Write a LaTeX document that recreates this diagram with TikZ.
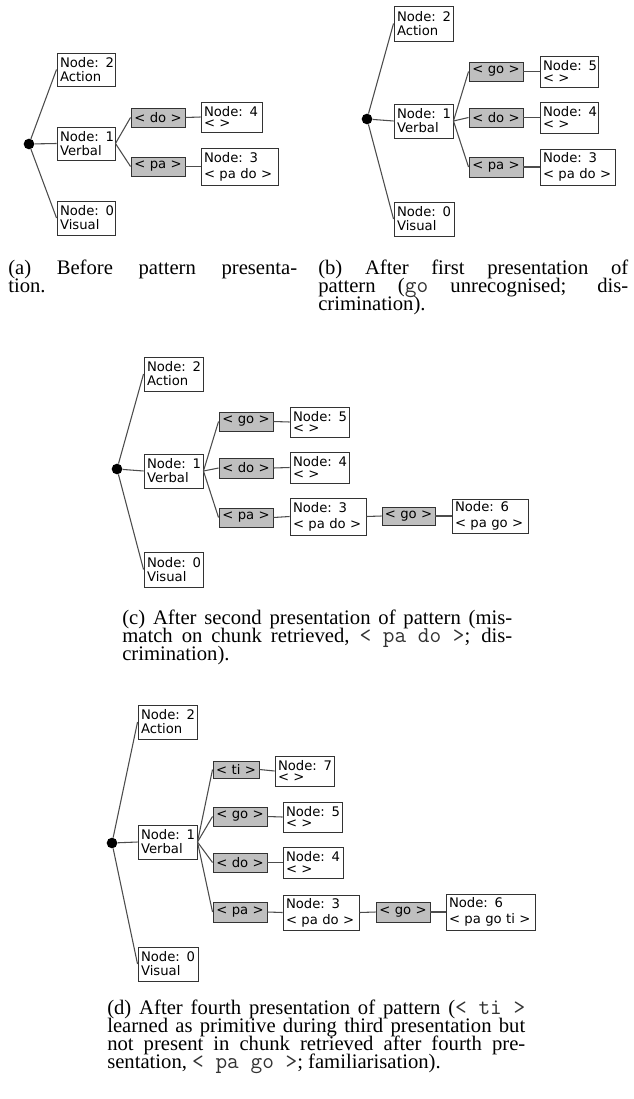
\documentclass[tikz,border=0pt]{standalone}
\usepackage{fontspec}
\newfontfamily\ndfont{DejaVu Sans}
\newfontfamily\capfont{Liberation Serif}
\newcommand\cmono[1]{{\ttfamily\fontsize{17}{18}\selectfont\color{black!80}#1}}
\tikzset{
  wnode/.style={draw=black!80, fill=white, line width=0.7pt, inner xsep=2.25pt, inner ysep=0pt, align=left, font=\ndfont\fontsize{9.9}{10.5}\selectfont},
  gnode/.style={draw=black!80, fill=black!25, line width=0.7pt, inner xsep=0pt, inner ysep=0pt, align=center, font=\ndfont\fontsize{9.9}{10.5}\selectfont},
  dotnode/.style={circle, fill=black, inner sep=0pt, minimum size=8pt},
  edge/.style={draw=black!70, line width=0.8pt},
  capnode/.style={inner sep=0pt, font=\capfont\fontsize{15.5}{18}\selectfont}
}
\newcommand\wbox[7]{%
  \pgfmathsetmacro\bxw{(#4-#2)*0.75-4.5}%
  \pgfmathsetmacro\bxh{(#5-#3)*0.75}%
  \node[wnode, text width={\bxw pt}, minimum height={\bxh pt}] (#1) at ({(#2+#4)/2},{(#3+#5)/2}) {\mbox{#6}\\\mbox{#7}};}
\newcommand\wboxt[7]{%
  \pgfmathsetmacro\bxw{(#4-#2)*0.75-4.5}%
  \pgfmathsetmacro\bxh{(#5-#3)*0.75}%
  \node[wnode, text width={\bxw pt}, minimum height={\bxh pt}] (#1) at ({(#2+#4)/2},{(#3+#5)/2}) {\mbox{#6}\\[-1.8pt]\mbox{#7}};}
\newcommand\wboxl[7]{%
  \pgfmathsetmacro\bxw{(#4-#2)*0.75-4.5}%
  \pgfmathsetmacro\bxh{(#5-#3)*0.75}%
  \node[wnode, text width={\bxw pt}, minimum height={\bxh pt}] (#1) at ({(#2+#4)/2},{(#3+#5)/2}) {\mbox{#6}\\[1.5pt]\mbox{#7}};}
\newcommand\gbox[6]{%
  \pgfmathsetmacro\bxw{(#4-#2)*0.75}%
  \pgfmathsetmacro\bxh{(#5-#3)*0.75}%
  \node[gnode, text width={\bxw pt}, minimum height={\bxh pt}] (#1) at ({(#2+#4)/2},{(#3+#5)/2}) {#6};}
\newcommand\capS[5]{\node[capnode, anchor=base west] (#1) at (#2,#3) {\makebox[#4pt][s]{#5}};}
\newcommand\capN[4]{\node[capnode, anchor=base west] (#1) at (#2,#3) {#4};}
\begin{document}
\begin{tikzpicture}[x=0.75pt,y=-0.75pt]
\fill[white] (0,0) rectangle (634,1099);
\useasboundingbox (0,0) rectangle (634,1099);

% ---------- (a)
\node[dotnode] (adot) at (29,144) {};
\wbox{a2}{57}{53}{115}{86}{Node: 2}{Action}
\wbox{a1}{57}{127}{115}{160}{Node: 1}{Verbal}
\wbox{a0}{57}{201}{115}{235}{Node: 0}{Visual}
\gbox{ado}{131}{108}{185}{127}{< do >}
\gbox{apa}{131}{157}{185}{176}{< pa >}
\wboxt{a4}{201}{102}{262}{132}{Node: 4}{< >}
\wboxl{a3}{201}{148}{278}{185}{Node: 3}{< pa do >}
\draw[edge] (adot) -- (a2.west);
\draw[edge] (adot) -- (a1.west);
\draw[edge] (adot) -- (a0.west);
\draw[edge] (a1.east) -- (ado.west);
\draw[edge] (a1.east) -- (apa.west);
\draw[edge] (ado.east) -- (a4.west);
\draw[edge] (apa.east) -- (a3.west);

% ---------- (b)
\node[dotnode] (bdot) at (367,119) {};
\wbox{b2}{394}{6}{453}{41}{Node: 2}{Action}
\wbox{b1}{394}{104}{453}{138}{Node: 1}{Verbal}
\wbox{b0}{394}{202}{454}{236}{Node: 0}{Visual}
\gbox{bgo}{469}{62}{523}{81}{< go >}
\gbox{bdo}{469}{108}{523}{127}{< do >}
\gbox{bpa}{469}{157}{523}{177}{< pa >}
\wboxt{b5}{540}{56}{598}{87}{Node: 5}{< >}
\wboxt{b4}{540}{102}{598}{133}{Node: 4}{< >}
\wboxl{b3}{540}{149}{615}{185}{Node: 3}{< pa do >}
\draw[edge] (bdot) -- (b2.west);
\draw[edge] (bdot) -- (b1.west);
\draw[edge] (bdot) -- (b0.west);
\draw[edge] (b1.east) -- (bgo.west);
\draw[edge] (b1.east) -- (bdo.west);
\draw[edge] (b1.east) -- (bpa.west);
\draw[edge] (bgo.east) -- (b5.west);
\draw[edge] (bdo.east) -- (b4.west);
\draw[edge] (bpa.east) -- (b3.west);

% ---------- captions (a) (b)
\capS{capa1}{8}{274}{216.75}{(a) Before pattern presenta-}
\capN{capa2}{8}{292}{tion.}
\capS{capb1}{318}{274}{232.5}{(b) After first presentation of}
\capS{capb2}{318}{292}{232.5}{pattern (\cmono{go} unrecognised; dis-}
\capN{capb3}{318}{310}{crimination).}

% ---------- (c)
\node[dotnode] (cdot) at (117,469) {};
\wbox{c2}{144}{357}{203}{391}{Node: 2}{Action}
\wbox{c1}{144}{454}{203}{488}{Node: 1}{Verbal}
\wbox{c0}{144}{552}{203}{587}{Node: 0}{Visual}
\gbox{cgo}{219}{412}{273}{431}{< go >}
\gbox{cdo}{219}{458}{273}{478}{< do >}
\gbox{cpa}{219}{508}{273}{527}{< pa >}
\wboxt{c5}{290}{407}{349}{437}{Node: 5}{< >}
\wboxt{c4}{290}{452}{349}{483}{Node: 4}{< >}
\wboxl{c3}{290}{498}{366}{535}{Node: 3}{< pa do >}
\gbox{cgob}{382}{507}{435}{525}{< go >}
\wboxl{c6}{452}{499}{528}{533}{Node: 6}{< pa go >}
\draw[edge] (cdot) -- (c2.west);
\draw[edge] (cdot) -- (c1.west);
\draw[edge] (cdot) -- (c0.west);
\draw[edge] (c1.east) -- (cgo.west);
\draw[edge] (c1.east) -- (cdo.west);
\draw[edge] (c1.east) -- (cpa.west);
\draw[edge] (cgo.east) -- (c5.west);
\draw[edge] (cdo.east) -- (c4.west);
\draw[edge] (cpa.east) -- (c3.west);
\draw[edge] (c3.east) -- (cgob.west);
\draw[edge] (cgob.east) -- (c6.west);

\capS{capc1}{122}{624}{292.5}{(c) After second presentation of pattern (mis-}
\capS{capc2}{122}{642}{292.5}{match on chunk retrieved, \cmono{< pa do >}; dis-}
\capN{capc3}{122}{660}{crimination).}

% ---------- (d)
\node[dotnode] (ddot) at (112,843) {};
\wbox{d2}{138}{705}{197}{739}{Node: 2}{Action}
\wbox{d1}{138}{825}{197}{859}{Node: 1}{Verbal}
\wbox{d0}{138}{947}{198}{981}{Node: 0}{Visual}
\gbox{dti}{213}{761}{259}{778}{< ti >}
\gbox{dgo}{213}{807}{267}{826}{< go >}
\gbox{ddo}{213}{853}{267}{872}{< do >}
\gbox{dpa}{213}{902}{267}{922}{< pa >}
\wboxt{d7}{275}{756}{334}{786}{Node: 7}{< >}
\wboxt{d5}{283}{802}{342}{832}{Node: 5}{< >}
\wboxt{d4}{283}{847}{343}{878}{Node: 4}{< >}
\wboxl{d3}{283}{895}{359}{930}{Node: 3}{< pa do >}
\gbox{dgob}{376}{902}{430}{922}{< go >}
\wboxl{d6}{446}{894}{535}{930}{Node: 6}{< pa go ti >}
\draw[edge] (ddot) -- (d2.west);
\draw[edge] (ddot) -- (d1.west);
\draw[edge] (ddot) -- (d0.west);
\draw[edge] (d1.east) -- (dti.west);
\draw[edge] (d1.east) -- (dgo.west);
\draw[edge] (d1.east) -- (ddo.west);
\draw[edge] (d1.east) -- (dpa.west);
\draw[edge] (dti.east) -- (d7.west);
\draw[edge] (dgo.east) -- (d5.west);
\draw[edge] (ddo.east) -- (d4.west);
\draw[edge] (dpa.east) -- (d3.west);
\draw[edge] (d3.east) -- (dgob.west);
\draw[edge] (dgob.east) -- (d6.west);

\capS{capd1}{107}{1014}{313.5}{(d) After fourth presentation of pattern (\cmono{< ti >}}
\capS{capd2}{107}{1032}{313.5}{learned as primitive during third presentation but}
\capS{capd3}{107}{1050}{313.5}{not present in chunk retrieved after fourth pre-}
\capN{capd4}{107}{1068}{sentation, \cmono{< pa go >}; familiarisation).}
\end{tikzpicture}
\end{document}
